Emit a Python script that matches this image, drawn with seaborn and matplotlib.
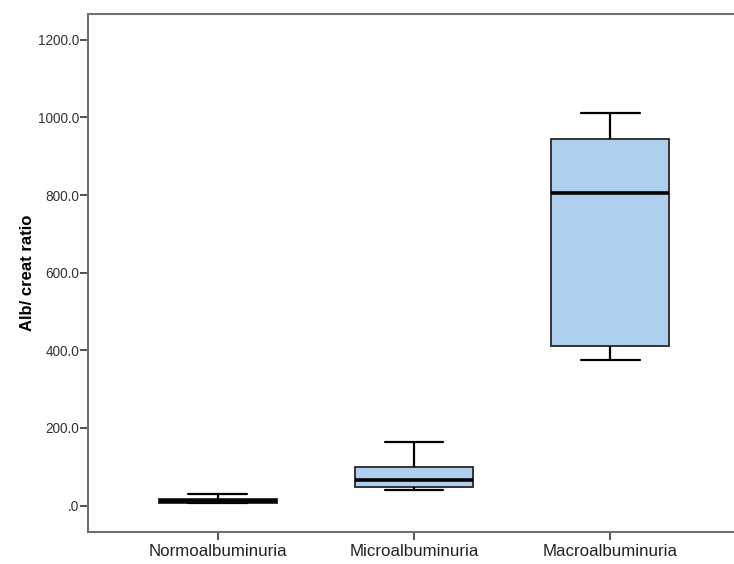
import pandas as pd
import matplotlib.pyplot as plt
import seaborn as sns
from matplotlib.ticker import FuncFormatter

# five-number summaries (min, q1, median, q3, max)
groups = ['Normoalbuminuria', 'Microalbuminuria', 'Macroalbuminuria']
normo = [6, 8, 12, 16, 29]
micro = [39, 47, 67, 99, 164]
macro = [375, 412, 804, 945, 1010]
yticks = [0, 200, 400, 600, 800, 1000, 1200]

df = pd.DataFrame({
    'group': [groups[0]] * len(normo) + [groups[1]] * len(micro) + [groups[2]] * len(macro),
    'ratio': normo + micro + macro,
})

sns.set_style('white')
plt.rcParams['font.family'] = ['Liberation Sans', 'DejaVu Sans']

fig = plt.figure(figsize=(7.34, 5.64), dpi=100)
ax = fig.add_axes([0.12, 0.056, 0.88, 0.919])

sns.boxplot(data=df, x='group', y='ratio', order=groups, ax=ax,
            color='#aed0ee', saturation=1, width=0.6, whis=(0, 100),
            linecolor='#1a1a1a', linewidth=1.5,
            boxprops=dict(edgecolor='#333333', linewidth=1.4),
            medianprops=dict(color='black', linewidth=2.6),
            whiskerprops=dict(color='black', linewidth=1.6),
            capprops=dict(color='black', linewidth=1.6))

ax.set_xlim(-0.66, 2.63)
ax.set_ylim(-69, 1266)
ax.set_yticks(yticks)
ax.yaxis.set_major_formatter(FuncFormatter(lambda v, p: '.0' if v == 0 else f'{v:.1f}'))

for side in ['top', 'left', 'bottom']:
    ax.spines[side].set_color('#707070')
    ax.spines[side].set_linewidth(1.5)
ax.spines['right'].set_visible(False)

ax.tick_params(axis='both', which='major', direction='out', length=5.5, width=1.2,
               color='#333333', left=True, bottom=True)
ax.tick_params(axis='y', labelsize=9.8, labelcolor='#333333', pad=1)
ax.tick_params(axis='x', labelsize=12.2, labelcolor='#222222', pad=3)

ax.set_xlabel('')
ax.set_ylabel('Alb/ creat ratio', fontsize=12, fontweight='bold', color='black', labelpad=2)

fig.savefig('out.png', dpi=100)
